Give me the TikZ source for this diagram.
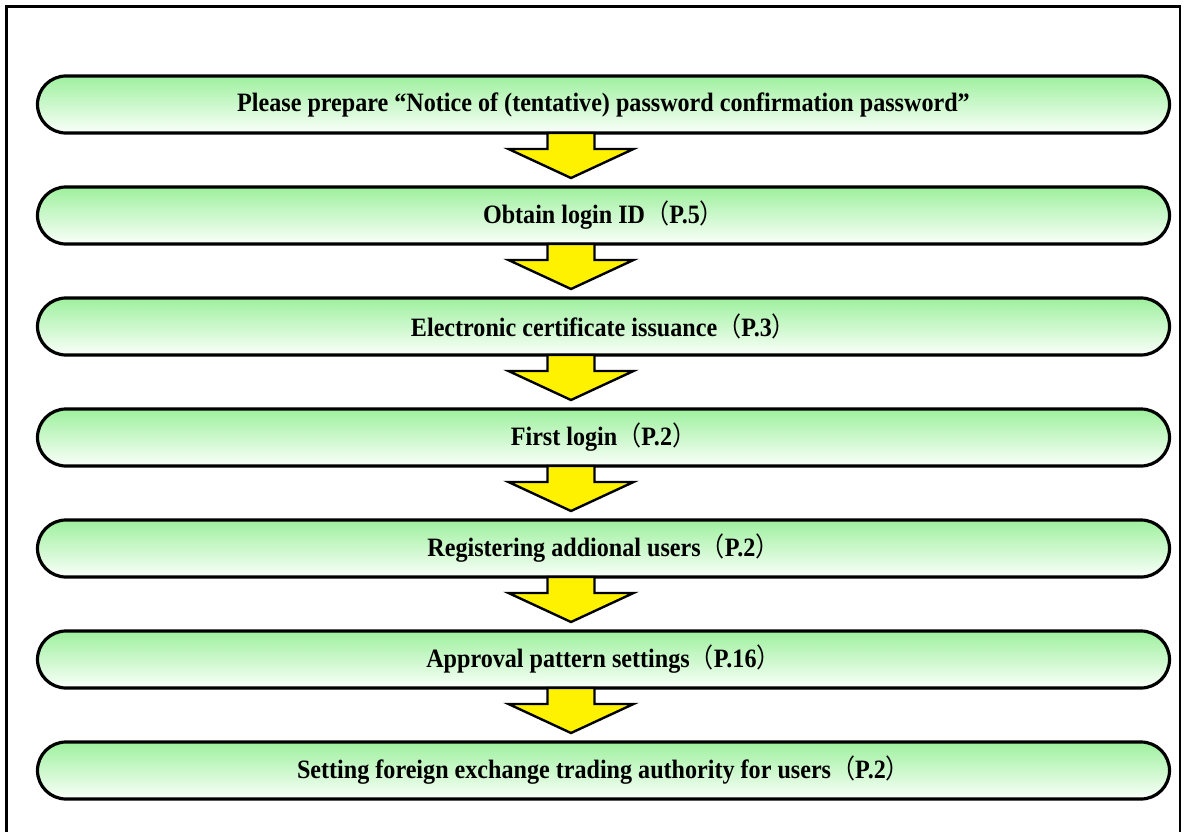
\documentclass[tikz,border=0pt]{standalone}
\usepackage{fontspec}
\setmainfont{Liberation Serif}
\newfontfamily\cjk{Noto Sans CJK JP}
\usetikzlibrary{calc}
\newcommand\jlp{{\mdseries\cjk （}}
\newcommand\jrp{{\mdseries\cjk ）}}
\definecolor{pillgreen}{RGB}{158,240,158}
\definecolor{pillwhite}{RGB}{250,255,250}
\tikzset{
  pill/.style={draw=black, line width=3.2pt, rounded corners=28.5pt,
    minimum width=1132pt, minimum height=57pt, inner sep=0pt, outer sep=0pt,
    top color=pillgreen, bottom color=pillwhite,
    font=\fontsize{26.5}{29}\selectfont\bfseries},
  yarrow/.style={draw=black, fill=yellow, line width=2.4pt, line join=miter},
  frame/.style={draw=black, line width=2.2pt}
}
\newcommand\ptext[1]{\scalebox{0.91}[1]{#1}}
\begin{document}
\begin{tikzpicture}[x=1pt,y=-1pt]
\useasboundingbox (0,0) rectangle (1187,832);
\draw[frame] (6.5,850) -- (6.5,6.5) -- (1180,6.5) -- (1180,850);
\node[pill] (p1) at (603.5,104.5) {\ptext{Please prepare “Notice of (tentative) password confirmation password”}};
\node[pill] (p2) at (603.5,215.5) {\ptext{Obtain login ID\jlp P.5\jrp}};
\node[pill] (p3) at (603.5,326.5) {\ptext{Electronic certificate issuance\jlp P.3\jrp}};
\node[pill] (p4) at (603.5,437.5) {\ptext{First login\jlp P.2\jrp}};
\node[pill] (p5) at (603.5,548.5) {\ptext{Registering addional users\jlp P.2\jrp}};
\node[pill] (p6) at (603.5,659.5) {\ptext{Approval pattern settings\jlp P.16\jrp}};
\node[pill] (p7) at (603.5,770.5) {\ptext{Setting foreign exchange trading authority for users\jlp P.2\jrp}};
\foreach \a/\b in {p1/p2,p2/p3,p3/p4,p4/p5,p5/p6,p6/p7}{
  \filldraw[yarrow] ([xshift=-56pt]\a.south) -- ([xshift=-56pt,yshift=-16pt]\a.south)
    -- ([xshift=-95pt,yshift=-16pt]\a.south) -- ([xshift=-32.5pt,yshift=9pt]\b.north)
    -- ([xshift=30pt,yshift=-16pt]\a.south) -- ([xshift=-9pt,yshift=-16pt]\a.south)
    -- ([xshift=-9pt]\a.south) -- cycle;
}
\end{tikzpicture}
\end{document}
